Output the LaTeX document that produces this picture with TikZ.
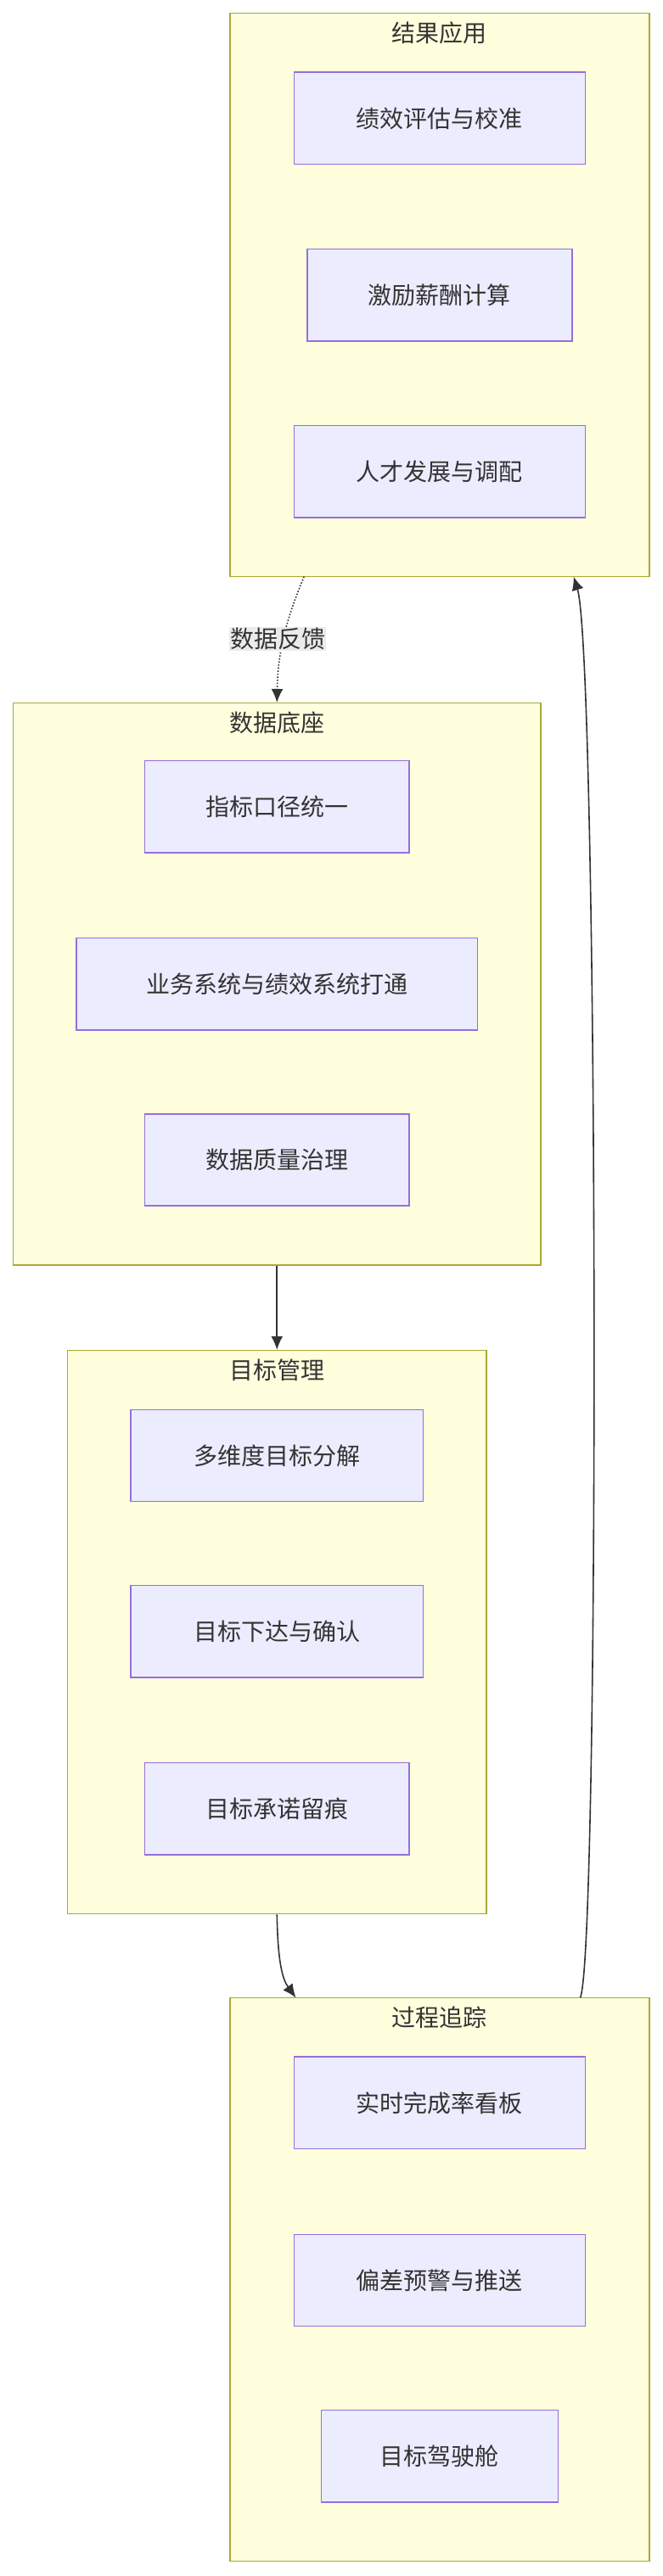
\documentclass[tikz,border=0pt]{standalone}
\usepackage{fontspec}
\setmainfont{Noto Sans CJK SC}
\usetikzlibrary{arrows.meta}
\definecolor{grpfill}{HTML}{FFFFDE}
\definecolor{grpline}{HTML}{AAAA33}
\definecolor{boxfill}{HTML}{ECECFF}
\definecolor{boxline}{HTML}{9370DB}
\definecolor{ink}{HTML}{333333}
\tikzset{
  grp/.style={draw=grpline, fill=grpfill, line width=1.5pt, inner sep=0pt},
  item/.style={draw=boxline, fill=boxfill, line width=1.5pt, inner sep=0pt,
    text=ink, font=\fontsize{28}{30}\selectfont},
  gtitle/.style={text=ink, font=\fontsize{28}{30}\selectfont},
  flow/.style={draw=ink, line width=1.6pt, -{Latex[length=16pt,width=14pt]}}
}
\begin{document}
\begin{tikzpicture}[x=1.936pt, y=-1.936pt]
  \useasboundingbox (0,0) rectangle (403,1568);

  % groups
  \node[grp, minimum width=255*1.936pt, minimum height=343*1.936pt] (result) at (267.5,179.5) {};
  \node[grp, minimum width=321*1.936pt, minimum height=342*1.936pt] (base) at (168.5,599) {};
  \node[grp, minimum width=255*1.936pt, minimum height=343*1.936pt] (goal) at (168.5,993.5) {};
  \node[grp, minimum width=255*1.936pt, minimum height=343*1.936pt] (track) at (267.5,1387.5) {};

  \node[gtitle] (resultT) at (267.5,20) {结果应用};
  \node[gtitle] (baseT) at (168.5,440) {数据底座};
  \node[gtitle] (goalT) at (168.5,834) {目标管理};
  \node[gtitle] (trackT) at (267.5,1228) {过程追踪};

  % items
  \node[item, minimum width=177*1.936pt, minimum height=56*1.936pt] (r1) at (267.5,72) {绩效评估与校准};
  \node[item, minimum width=161*1.936pt, minimum height=56*1.936pt] (r2) at (267.5,179.5) {激励薪酬计算};
  \node[item, minimum width=177*1.936pt, minimum height=56*1.936pt] (r3) at (267.5,287) {人才发展与调配};

  \node[item, minimum width=161*1.936pt, minimum height=56*1.936pt] (b1) at (168.5,491) {指标口径统一};
  \node[item, minimum width=244*1.936pt, minimum height=56*1.936pt] (b2) at (168.5,599) {业务系统与绩效系统打通};
  \node[item, minimum width=161*1.936pt, minimum height=56*1.936pt] (b3) at (168.5,706) {数据质量治理};

  \node[item, minimum width=178*1.936pt, minimum height=56*1.936pt] (g1) at (168.5,886) {多维度目标分解};
  \node[item, minimum width=178*1.936pt, minimum height=56*1.936pt] (g2) at (168.5,993) {目标下达与确认};
  \node[item, minimum width=161*1.936pt, minimum height=56*1.936pt] (g3) at (168.5,1101) {目标承诺留痕};

  \node[item, minimum width=177*1.936pt, minimum height=56*1.936pt] (t1) at (267.5,1280) {实时完成率看板};
  \node[item, minimum width=177*1.936pt, minimum height=56*1.936pt] (t2) at (267.5,1388) {偏差预警与推送};
  \node[item, minimum width=144*1.936pt, minimum height=56*1.936pt] (t3) at (267.5,1495) {目标驾驶舱};

  % connectors
  \coordinate (fbStart) at (185,351);
  \draw[flow, dotted] (fbStart) .. controls (175,375) and (169,395) .. (base.north);
  \node[fill=black!8, inner sep=1pt, text=ink, font=\fontsize{28}{30}\selectfont] (fbLabel) at (169,389) {数据反馈};
  \draw[flow] (base.south) -- (goal.north);
  \coordinate (gEnd) at (180,1216);
  \draw[flow] (goal.south) .. controls (169,1195) and (172,1205) .. (gEnd);
  \coordinate (tStart) at (353,1216);
  \coordinate (rEnd) at (349,351);
  \draw[flow] (tStart) .. controls (365,1190) and (364,400) .. (rEnd);
\end{tikzpicture}
\end{document}
